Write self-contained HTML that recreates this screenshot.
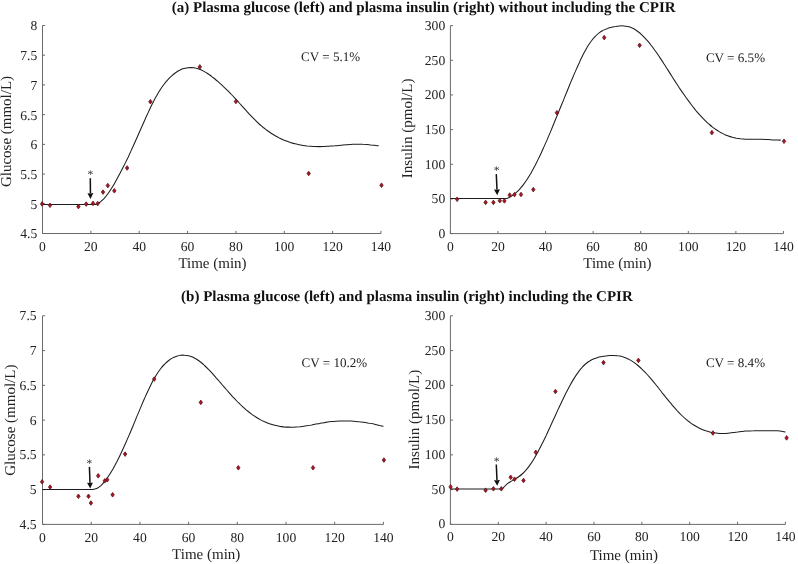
<!DOCTYPE html>
<html lang="en"><head><meta charset="utf-8"><title>Plasma glucose and plasma insulin</title>
<style>html,body{margin:0;padding:0;background:#fff}body{width:798px;height:564px;overflow:hidden}svg{display:block}text{text-rendering:geometricPrecision;font-family:"Liberation Serif","Times New Roman",serif;fill:#222}.t{font-size:13.6px}.c{font-size:13.1px}.s{font-size:11.5px}.l{font-size:15.0px}.h{font-size:15.0px;font-weight:bold;fill:#111}</style></head><body>
<svg width="798" height="564" viewBox="0 0 798 564">
<rect width="798" height="564" fill="#fff"/>
<text class="h" x="423.7" y="11.6" text-anchor="middle">(a) Plasma glucose (left) and plasma insulin (right) without including the CPIR</text>
<text class="h" x="406.9" y="300.8" text-anchor="middle">(b) Plasma glucose (left) and plasma insulin (right) including the CPIR</text>
<g id="A1">
<path d="M42.50 25.50V233.50H380.95M42.50 233.50h2.6M42.50 203.79h2.6M42.50 174.07h2.6M42.50 144.36h2.6M42.50 114.64h2.6M42.50 84.93h2.6M42.50 55.21h2.6M42.50 25.50h2.6M42.50 233.50v-2.6M90.85 233.50v-2.6M139.20 233.50v-2.6M187.55 233.50v-2.6M235.90 233.50v-2.6M284.25 233.50v-2.6M332.60 233.50v-2.6M380.95 233.50v-2.6" fill="none" stroke="#6a6a6a" stroke-width="1"/>
<text class="t" x="37.3" y="238.4" text-anchor="end">4.5</text>
<text class="t" x="37.3" y="208.7" text-anchor="end">5</text>
<text class="t" x="37.3" y="179.0" text-anchor="end">5.5</text>
<text class="t" x="37.3" y="149.3" text-anchor="end">6</text>
<text class="t" x="37.3" y="119.5" text-anchor="end">6.5</text>
<text class="t" x="37.3" y="89.8" text-anchor="end">7</text>
<text class="t" x="37.3" y="60.1" text-anchor="end">7.5</text>
<text class="t" x="37.3" y="30.4" text-anchor="end">8</text>
<text class="t" x="42.5" y="251.0" text-anchor="middle">0</text>
<text class="t" x="90.8" y="251.0" text-anchor="middle">20</text>
<text class="t" x="139.2" y="251.0" text-anchor="middle">40</text>
<text class="t" x="187.6" y="251.0" text-anchor="middle">60</text>
<text class="t" x="235.9" y="251.0" text-anchor="middle">80</text>
<text class="t" x="284.2" y="251.0" text-anchor="middle">100</text>
<text class="t" x="332.6" y="251.0" text-anchor="middle">120</text>
<text class="t" x="380.9" y="251.0" text-anchor="middle">140</text>
<text class="l" x="212.5" y="268.4" text-anchor="middle">Time (min)</text>
<text class="l" transform="translate(11.0 131.5) rotate(-90)" text-anchor="middle">Glucose (mmol/L)</text>
<text class="c" x="301.0" y="61.0">CV = 5.1%</text>
<path d="M42.5 204.5L96.0 204.5C96.7 204.1 98.7 203.1 100.0 202.2C101.3 201.2 102.6 200.0 104.0 198.6C105.3 197.2 106.6 195.5 107.9 193.7C109.3 191.9 110.6 189.8 111.9 187.7C113.3 185.6 114.6 183.3 115.9 180.9C117.2 178.6 118.6 176.1 119.9 173.6C121.2 171.1 122.5 168.5 123.9 165.8C125.2 163.2 126.5 160.4 127.9 157.7C129.2 154.9 130.5 152.0 131.8 149.1C133.2 146.3 134.5 143.3 135.8 140.3C137.1 137.4 138.5 134.3 139.8 131.3C141.1 128.3 142.5 125.2 143.8 122.2C145.1 119.2 146.4 116.2 147.8 113.4C149.1 110.5 150.4 107.6 151.7 105.0C153.1 102.3 154.4 99.7 155.7 97.3C157.1 94.9 158.4 92.6 159.7 90.5C161.0 88.4 162.4 86.5 163.7 84.7C165.0 82.9 166.3 81.3 167.7 79.8C169.0 78.4 170.3 77.0 171.7 75.8C173.0 74.6 174.3 73.6 175.6 72.7C177.0 71.7 178.3 70.9 179.6 70.3C180.9 69.6 182.3 69.0 183.6 68.6C184.9 68.2 186.3 67.9 187.6 67.7C188.9 67.5 190.2 67.5 191.6 67.5C192.9 67.6 194.2 67.8 195.5 68.1C196.9 68.3 198.2 68.8 199.5 69.3C200.9 69.8 202.2 70.4 203.5 71.1C204.8 71.8 206.2 72.6 207.5 73.5C208.8 74.4 210.1 75.3 211.5 76.3C212.8 77.3 214.1 78.4 215.5 79.5C216.8 80.6 218.1 81.8 219.4 82.9C220.8 84.1 222.1 85.3 223.4 86.6C224.7 87.8 226.1 89.1 227.4 90.4C228.7 91.8 230.1 93.1 231.4 94.5C232.7 95.8 234.0 97.2 235.4 98.7C236.7 100.1 238.0 101.5 239.3 103.0C240.7 104.5 242.0 106.0 243.3 107.4C244.6 108.9 246.0 110.4 247.3 111.8C248.6 113.3 250.0 114.8 251.3 116.2C252.6 117.6 253.9 118.9 255.3 120.2C256.6 121.6 257.9 122.8 259.2 124.0C260.6 125.2 261.9 126.4 263.2 127.5C264.6 128.5 265.9 129.6 267.2 130.5C268.5 131.5 269.9 132.4 271.2 133.3C272.5 134.1 273.8 135.0 275.2 135.7C276.5 136.5 277.8 137.2 279.2 137.9C280.5 138.5 281.8 139.1 283.1 139.7C284.5 140.3 285.8 140.8 287.1 141.3C288.4 141.8 289.8 142.3 291.1 142.7C292.4 143.1 293.8 143.5 295.1 143.8C296.4 144.1 297.7 144.4 299.1 144.7C300.4 145.0 301.7 145.2 303.0 145.4C304.4 145.6 305.7 145.8 307.0 146.0C308.4 146.1 309.7 146.2 311.0 146.3C312.3 146.4 313.7 146.5 315.0 146.5C316.3 146.6 317.6 146.6 319.0 146.6C320.3 146.6 321.6 146.6 323.0 146.5C324.3 146.5 325.6 146.4 326.9 146.3C328.3 146.3 329.6 146.2 330.9 146.1C332.2 146.0 333.6 145.9 334.9 145.8C336.2 145.6 337.6 145.5 338.9 145.4C340.2 145.3 341.5 145.2 342.9 145.0C344.2 144.9 345.5 144.8 346.8 144.7C348.2 144.6 349.5 144.5 350.8 144.4C352.2 144.3 353.5 144.3 354.8 144.2C356.1 144.2 357.5 144.2 358.8 144.2C360.1 144.2 361.4 144.2 362.8 144.3C364.1 144.3 365.4 144.4 366.8 144.5C368.1 144.6 369.4 144.7 370.7 144.9C372.1 145.0 373.4 145.1 374.7 145.3C376.0 145.5 378.0 145.7 378.7 145.8" fill="none" stroke="#1c1c1c" stroke-width="1.05" stroke-linejoin="round"/>
<path d="M42.1 201.6l1.7 2.3 -1.7 2.3 -1.7 -2.3zM50.0 203.0l1.7 2.3 -1.7 2.3 -1.7 -2.3zM78.4 204.3l1.7 2.3 -1.7 2.3 -1.7 -2.3zM86.2 201.8l1.7 2.3 -1.7 2.3 -1.7 -2.3zM93.0 201.1l1.7 2.3 -1.7 2.3 -1.7 -2.3zM97.7 201.3l1.7 2.3 -1.7 2.3 -1.7 -2.3zM103.0 189.8l1.7 2.3 -1.7 2.3 -1.7 -2.3zM107.8 183.3l1.7 2.3 -1.7 2.3 -1.7 -2.3zM114.3 188.5l1.7 2.3 -1.7 2.3 -1.7 -2.3zM127.1 165.7l1.7 2.3 -1.7 2.3 -1.7 -2.3zM150.4 99.4l1.7 2.3 -1.7 2.3 -1.7 -2.3zM199.8 64.6l1.7 2.3 -1.7 2.3 -1.7 -2.3zM235.9 99.2l1.7 2.3 -1.7 2.3 -1.7 -2.3zM308.7 171.2l1.7 2.3 -1.7 2.3 -1.7 -2.3zM381.5 182.9l1.7 2.3 -1.7 2.3 -1.7 -2.3z" fill="#a5152a" stroke="#641414" stroke-width="0.8" stroke-linejoin="round"/>
<path d="M90.30 178.20L90.45 193.40" stroke="#111" stroke-width="1.5" fill="none"/>
<path d="M90.50 198.90L87.49 193.13L90.45 193.40L93.39 193.07z" fill="#111"/>
<text class="s" x="90.3" y="178.0" text-anchor="middle">*</text>
</g>
<g id="A2">
<path d="M450.40 25.60V233.60H783.46M450.40 233.60h2.6M450.40 198.93h2.6M450.40 164.27h2.6M450.40 129.60h2.6M450.40 94.93h2.6M450.40 60.27h2.6M450.40 25.60h2.6M450.40 233.60v-2.6M497.98 233.60v-2.6M545.56 233.60v-2.6M593.14 233.60v-2.6M640.72 233.60v-2.6M688.30 233.60v-2.6M735.88 233.60v-2.6M783.46 233.60v-2.6" fill="none" stroke="#6a6a6a" stroke-width="1"/>
<text class="t" x="445.2" y="238.0" text-anchor="end">0</text>
<text class="t" x="445.2" y="203.3" text-anchor="end">50</text>
<text class="t" x="445.2" y="168.7" text-anchor="end">100</text>
<text class="t" x="445.2" y="134.0" text-anchor="end">150</text>
<text class="t" x="445.2" y="99.3" text-anchor="end">200</text>
<text class="t" x="445.2" y="64.7" text-anchor="end">250</text>
<text class="t" x="445.2" y="30.0" text-anchor="end">300</text>
<text class="t" x="450.4" y="251.1" text-anchor="middle">0</text>
<text class="t" x="498.0" y="251.1" text-anchor="middle">20</text>
<text class="t" x="545.6" y="251.1" text-anchor="middle">40</text>
<text class="t" x="593.1" y="251.1" text-anchor="middle">60</text>
<text class="t" x="640.7" y="251.1" text-anchor="middle">80</text>
<text class="t" x="688.3" y="251.1" text-anchor="middle">100</text>
<text class="t" x="735.9" y="251.1" text-anchor="middle">120</text>
<text class="t" x="783.5" y="251.1" text-anchor="middle">140</text>
<text class="l" x="617.4" y="268.2" text-anchor="middle">Time (min)</text>
<text class="l" transform="translate(412.0 128.4) rotate(-90)" text-anchor="middle">Insulin (pmol/L)</text>
<text class="c" x="705.9" y="61.9">CV = 6.5%</text>
<path d="M450.4 198.5L506.9 198.5C507.6 198.2 509.6 197.3 510.9 196.5C512.3 195.7 513.6 194.7 515.0 193.6C516.3 192.5 517.6 191.2 519.0 189.8C520.3 188.4 521.7 186.8 523.0 185.1C524.3 183.4 525.7 181.5 527.0 179.5C528.4 177.4 529.7 175.2 531.1 172.9C532.4 170.6 533.7 168.1 535.1 165.5C536.4 162.9 537.8 160.2 539.1 157.4C540.5 154.6 541.8 151.7 543.1 148.7C544.5 145.7 545.8 142.7 547.2 139.6C548.5 136.5 549.8 133.3 551.2 130.1C552.5 126.9 553.9 123.6 555.2 120.3C556.6 117.1 557.9 113.8 559.2 110.5C560.6 107.2 561.9 103.9 563.3 100.6C564.6 97.3 566.0 93.9 567.3 90.7C568.6 87.4 570.0 84.1 571.3 80.9C572.7 77.7 574.0 74.5 575.4 71.4C576.7 68.3 578.0 65.3 579.4 62.4C580.7 59.5 582.1 56.7 583.4 54.1C584.7 51.5 586.1 49.1 587.4 46.8C588.8 44.6 590.1 42.6 591.5 40.8C592.8 39.0 594.1 37.5 595.5 36.1C596.8 34.7 598.2 33.6 599.5 32.6C600.9 31.6 602.2 30.9 603.5 30.1C604.9 29.4 606.2 28.9 607.6 28.4C608.9 27.9 610.2 27.6 611.6 27.2C612.9 26.9 614.3 26.6 615.6 26.4C617.0 26.1 618.3 26.0 619.6 25.9C621.0 25.8 622.3 25.8 623.7 25.9C625.0 26.0 626.4 26.2 627.7 26.5C629.0 26.8 630.4 27.2 631.7 27.8C633.1 28.4 634.4 29.2 635.7 30.0C637.1 30.9 638.4 31.9 639.8 33.0C641.1 34.2 642.5 35.4 643.8 36.8C645.1 38.2 646.5 39.7 647.8 41.2C649.2 42.8 650.5 44.5 651.9 46.3C653.2 48.0 654.5 49.9 655.9 51.7C657.2 53.6 658.6 55.6 659.9 57.6C661.2 59.6 662.6 61.7 663.9 63.8C665.3 65.9 666.6 68.0 668.0 70.1C669.3 72.2 670.6 74.3 672.0 76.5C673.3 78.6 674.7 80.7 676.0 82.7C677.4 84.8 678.7 86.9 680.0 88.9C681.4 90.9 682.7 92.8 684.1 94.8C685.4 96.7 686.7 98.6 688.1 100.4C689.4 102.2 690.8 104.0 692.1 105.7C693.5 107.5 694.8 109.1 696.1 110.8C697.5 112.4 698.8 113.9 700.2 115.4C701.5 116.9 702.9 118.3 704.2 119.6C705.5 121.0 706.9 122.2 708.2 123.4C709.6 124.6 710.9 125.8 712.2 126.8C713.6 127.9 714.9 128.9 716.3 129.8C717.6 130.7 719.0 131.5 720.3 132.3C721.6 133.0 723.0 133.7 724.3 134.4C725.7 135.0 727.0 135.5 728.4 136.0C729.7 136.5 731.0 136.9 732.4 137.3C733.7 137.6 735.1 137.9 736.4 138.2C737.8 138.4 739.1 138.6 740.4 138.8C741.8 138.9 743.1 139.0 744.5 139.1C745.8 139.1 747.1 139.1 748.5 139.2C749.8 139.2 751.2 139.2 752.5 139.2C753.9 139.2 755.2 139.1 756.5 139.2C757.9 139.2 759.2 139.2 760.6 139.2C761.9 139.3 763.3 139.3 764.6 139.4C765.9 139.5 767.3 139.5 768.6 139.6C770.0 139.7 771.3 139.8 772.6 139.9C774.0 139.9 775.3 140.0 776.7 140.0C778.0 140.1 780.0 140.1 780.7 140.1" fill="none" stroke="#1c1c1c" stroke-width="1.05" stroke-linejoin="round"/>
<path d="M457.1 197.0l1.7 2.3 -1.7 2.3 -1.7 -2.3zM485.6 200.1l1.7 2.3 -1.7 2.3 -1.7 -2.3zM493.4 200.1l1.7 2.3 -1.7 2.3 -1.7 -2.3zM499.8 198.4l1.7 2.3 -1.7 2.3 -1.7 -2.3zM504.4 198.6l1.7 2.3 -1.7 2.3 -1.7 -2.3zM509.7 192.8l1.7 2.3 -1.7 2.3 -1.7 -2.3zM514.5 192.3l1.7 2.3 -1.7 2.3 -1.7 -2.3zM521.0 192.2l1.7 2.3 -1.7 2.3 -1.7 -2.3zM533.3 187.3l1.7 2.3 -1.7 2.3 -1.7 -2.3zM556.9 110.4l1.7 2.3 -1.7 2.3 -1.7 -2.3zM604.2 35.3l1.7 2.3 -1.7 2.3 -1.7 -2.3zM639.6 43.0l1.7 2.3 -1.7 2.3 -1.7 -2.3zM711.9 130.3l1.7 2.3 -1.7 2.3 -1.7 -2.3zM784.0 139.0l1.7 2.3 -1.7 2.3 -1.7 -2.3z" fill="#a5152a" stroke="#641414" stroke-width="0.8" stroke-linejoin="round"/>
<path d="M496.30 174.10L496.97 189.70" stroke="#111" stroke-width="1.5" fill="none"/>
<path d="M497.20 195.20L494.01 189.53L496.97 189.70L499.90 189.28z" fill="#111"/>
<text class="s" x="496.5" y="173.8" text-anchor="middle">*</text>
</g>
<g id="B1">
<path d="M42.50 315.80V524.40H383.40M42.50 524.40h2.6M42.50 489.63h2.6M42.50 454.87h2.6M42.50 420.10h2.6M42.50 385.33h2.6M42.50 350.57h2.6M42.50 315.80h2.6M42.50 524.40v-2.6M91.20 524.40v-2.6M139.90 524.40v-2.6M188.60 524.40v-2.6M237.30 524.40v-2.6M286.00 524.40v-2.6M334.70 524.40v-2.6M383.40 524.40v-2.6" fill="none" stroke="#6a6a6a" stroke-width="1"/>
<text class="t" x="36.6" y="528.9" text-anchor="end">4.5</text>
<text class="t" x="36.6" y="494.1" text-anchor="end">5</text>
<text class="t" x="36.6" y="459.4" text-anchor="end">5.5</text>
<text class="t" x="36.6" y="424.6" text-anchor="end">6</text>
<text class="t" x="36.6" y="389.8" text-anchor="end">6.5</text>
<text class="t" x="36.6" y="355.1" text-anchor="end">7</text>
<text class="t" x="36.6" y="320.3" text-anchor="end">7.5</text>
<text class="t" x="42.5" y="541.7" text-anchor="middle">0</text>
<text class="t" x="91.2" y="541.7" text-anchor="middle">20</text>
<text class="t" x="139.9" y="541.7" text-anchor="middle">40</text>
<text class="t" x="188.6" y="541.7" text-anchor="middle">60</text>
<text class="t" x="237.3" y="541.7" text-anchor="middle">80</text>
<text class="t" x="286.0" y="541.7" text-anchor="middle">100</text>
<text class="t" x="334.7" y="541.7" text-anchor="middle">120</text>
<text class="t" x="383.4" y="541.7" text-anchor="middle">140</text>
<text class="l" x="206.2" y="559.2" text-anchor="middle">Time (min)</text>
<text class="l" transform="translate(15.2 420.2) rotate(-90)" text-anchor="middle">Glucose (mmol/L)</text>
<text class="c" x="301.5" y="366.5">CV = 10.2%</text>
<path d="M42.5 489.5L93.2 489.5C93.9 489.3 95.9 488.9 97.2 488.2C98.5 487.5 99.8 486.5 101.2 485.3C102.5 484.0 103.8 482.6 105.1 480.9C106.5 479.3 107.8 477.4 109.1 475.3C110.4 473.3 111.8 471.1 113.1 468.8C114.4 466.4 115.7 463.9 117.1 461.3C118.4 458.7 119.7 456.0 121.0 453.2C122.4 450.4 123.7 447.5 125.0 444.5C126.3 441.6 127.7 438.5 129.0 435.4C130.3 432.4 131.6 429.2 133.0 426.0C134.3 422.9 135.6 419.6 136.9 416.4C138.3 413.3 139.6 410.0 140.9 406.9C142.2 403.8 143.6 400.6 144.9 397.6C146.2 394.6 147.5 391.7 148.9 388.9C150.2 386.2 151.5 383.5 152.8 381.0C154.2 378.6 155.5 376.3 156.8 374.2C158.1 372.1 159.5 370.2 160.8 368.5C162.1 366.8 163.4 365.3 164.8 364.0C166.1 362.6 167.4 361.5 168.7 360.5C170.1 359.5 171.4 358.6 172.7 357.9C174.0 357.2 175.4 356.7 176.7 356.2C178.0 355.8 179.3 355.5 180.7 355.3C182.0 355.1 183.3 355.1 184.6 355.2C186.0 355.2 187.3 355.4 188.6 355.8C189.9 356.1 191.3 356.6 192.6 357.1C193.9 357.7 195.2 358.4 196.6 359.2C197.9 360.1 199.2 361.0 200.5 362.0C201.9 363.1 203.2 364.2 204.5 365.5C205.8 366.7 207.2 368.0 208.5 369.4C209.8 370.7 211.1 372.2 212.5 373.6C213.8 375.1 215.1 376.6 216.4 378.1C217.8 379.6 219.1 381.2 220.4 382.7C221.7 384.2 223.1 385.8 224.4 387.3C225.7 388.8 227.0 390.4 228.4 391.9C229.7 393.4 231.0 394.8 232.3 396.3C233.7 397.7 235.0 399.2 236.3 400.5C237.6 401.9 239.0 403.2 240.3 404.5C241.6 405.8 242.9 407.0 244.3 408.2C245.6 409.3 246.9 410.5 248.2 411.5C249.6 412.6 250.9 413.6 252.2 414.6C253.5 415.5 254.9 416.4 256.2 417.2C257.5 418.1 258.8 418.9 260.2 419.6C261.5 420.3 262.8 421.0 264.1 421.6C265.5 422.2 266.8 422.7 268.1 423.2C269.4 423.7 270.8 424.2 272.1 424.6C273.4 425.0 274.7 425.3 276.1 425.6C277.4 425.9 278.7 426.2 280.0 426.4C281.4 426.6 282.7 426.7 284.0 426.9C285.3 427.0 286.7 427.1 288.0 427.1C289.3 427.2 290.6 427.2 292.0 427.2C293.3 427.2 294.6 427.1 295.9 427.0C297.3 426.9 298.6 426.8 299.9 426.7C301.2 426.5 302.6 426.4 303.9 426.2C305.2 426.0 306.5 425.8 307.9 425.6C309.2 425.3 310.5 425.1 311.8 424.9C313.2 424.6 314.5 424.4 315.8 424.1C317.1 423.9 318.5 423.6 319.8 423.4C321.1 423.2 322.4 422.9 323.8 422.7C325.1 422.5 326.4 422.3 327.7 422.1C329.1 422.0 330.4 421.8 331.7 421.6C333.0 421.5 334.4 421.4 335.7 421.3C337.0 421.2 338.3 421.1 339.7 421.0C341.0 420.9 342.3 420.9 343.6 420.9C345.0 420.9 346.3 420.9 347.6 420.9C348.9 420.9 350.3 421.0 351.6 421.1C352.9 421.2 354.2 421.3 355.6 421.4C356.9 421.5 358.2 421.6 359.5 421.8C360.9 421.9 362.2 422.1 363.5 422.3C364.8 422.5 366.2 422.7 367.5 422.9C368.8 423.1 370.1 423.3 371.5 423.6C372.8 423.8 374.1 424.1 375.4 424.4C376.8 424.7 378.1 425.0 379.4 425.4C380.7 425.7 382.7 426.3 383.4 426.5" fill="none" stroke="#1c1c1c" stroke-width="1.05" stroke-linejoin="round"/>
<path d="M42.1 479.5l1.7 2.3 -1.7 2.3 -1.7 -2.3zM50.1 484.8l1.7 2.3 -1.7 2.3 -1.7 -2.3zM78.4 494.0l1.7 2.3 -1.7 2.3 -1.7 -2.3zM88.5 494.0l1.7 2.3 -1.7 2.3 -1.7 -2.3zM90.9 500.7l1.7 2.3 -1.7 2.3 -1.7 -2.3zM98.2 473.5l1.7 2.3 -1.7 2.3 -1.7 -2.3zM104.8 478.5l1.7 2.3 -1.7 2.3 -1.7 -2.3zM107.2 477.5l1.7 2.3 -1.7 2.3 -1.7 -2.3zM112.6 492.5l1.7 2.3 -1.7 2.3 -1.7 -2.3zM125.1 451.8l1.7 2.3 -1.7 2.3 -1.7 -2.3zM154.2 376.8l1.7 2.3 -1.7 2.3 -1.7 -2.3zM200.8 400.1l1.7 2.3 -1.7 2.3 -1.7 -2.3zM238.3 465.5l1.7 2.3 -1.7 2.3 -1.7 -2.3zM313.0 465.4l1.7 2.3 -1.7 2.3 -1.7 -2.3zM383.9 457.8l1.7 2.3 -1.7 2.3 -1.7 -2.3z" fill="#a5152a" stroke="#641414" stroke-width="0.8" stroke-linejoin="round"/>
<path d="M89.40 466.90L90.00 482.90" stroke="#111" stroke-width="1.5" fill="none"/>
<path d="M90.20 488.40L87.04 482.71L90.00 482.90L92.93 482.49z" fill="#111"/>
<text class="s" x="89.4" y="467.0" text-anchor="middle">*</text>
</g>
<g id="B2">
<path d="M450.40 315.80V524.40H785.42M450.40 524.40h2.6M450.40 489.63h2.6M450.40 454.87h2.6M450.40 420.10h2.6M450.40 385.33h2.6M450.40 350.57h2.6M450.40 315.80h2.6M450.40 524.40v-2.6M498.26 524.40v-2.6M546.12 524.40v-2.6M593.98 524.40v-2.6M641.84 524.40v-2.6M689.70 524.40v-2.6M737.56 524.40v-2.6M785.42 524.40v-2.6" fill="none" stroke="#6a6a6a" stroke-width="1"/>
<text class="t" x="445.2" y="528.4" text-anchor="end">0</text>
<text class="t" x="445.2" y="493.6" text-anchor="end">50</text>
<text class="t" x="445.2" y="458.9" text-anchor="end">100</text>
<text class="t" x="445.2" y="424.1" text-anchor="end">150</text>
<text class="t" x="445.2" y="389.3" text-anchor="end">200</text>
<text class="t" x="445.2" y="354.6" text-anchor="end">250</text>
<text class="t" x="445.2" y="319.8" text-anchor="end">300</text>
<text class="t" x="450.4" y="541.1" text-anchor="middle">0</text>
<text class="t" x="498.3" y="541.1" text-anchor="middle">20</text>
<text class="t" x="546.1" y="541.1" text-anchor="middle">40</text>
<text class="t" x="594.0" y="541.1" text-anchor="middle">60</text>
<text class="t" x="641.8" y="541.1" text-anchor="middle">80</text>
<text class="t" x="689.7" y="541.1" text-anchor="middle">100</text>
<text class="t" x="737.6" y="541.1" text-anchor="middle">120</text>
<text class="t" x="785.4" y="541.1" text-anchor="middle">140</text>
<text class="l" x="624.0" y="560.4" text-anchor="middle">Time (min)</text>
<text class="l" transform="translate(419.0 419.6) rotate(-90)" text-anchor="middle">Insulin (pmol/L)</text>
<text class="c" x="705.9" y="366.5">CV = 8.4%</text>
<path d="M450.4 489.0L502.3 489.0C503.0 488.3 505.0 485.9 506.3 484.7C507.6 483.5 508.9 482.6 510.3 481.7C511.6 480.9 512.9 480.2 514.3 479.4C515.6 478.6 516.9 477.9 518.3 477.0C519.6 476.1 520.9 475.2 522.2 474.0C523.6 472.8 524.9 471.4 526.2 469.9C527.6 468.3 528.9 466.5 530.2 464.6C531.6 462.7 532.9 460.6 534.2 458.4C535.5 456.2 536.9 453.8 538.2 451.4C539.5 448.9 540.9 446.3 542.2 443.6C543.5 441.0 544.8 438.2 546.2 435.4C547.5 432.6 548.8 429.7 550.2 426.8C551.5 423.9 552.8 421.0 554.2 418.1C555.5 415.2 556.8 412.2 558.1 409.4C559.5 406.5 560.8 403.6 562.1 400.9C563.5 398.1 564.8 395.4 566.1 392.8C567.4 390.2 568.8 387.6 570.1 385.2C571.4 382.8 572.8 380.5 574.1 378.4C575.4 376.2 576.8 374.2 578.1 372.4C579.4 370.5 580.7 368.9 582.1 367.4C583.4 365.9 584.7 364.6 586.1 363.5C587.4 362.4 588.7 361.5 590.1 360.7C591.4 359.9 592.7 359.3 594.0 358.7C595.4 358.2 596.7 357.8 598.0 357.4C599.4 357.0 600.7 356.8 602.0 356.5C603.3 356.3 604.7 356.1 606.0 355.9C607.3 355.7 608.7 355.6 610.0 355.5C611.3 355.4 612.7 355.4 614.0 355.4C615.3 355.5 616.6 355.6 618.0 355.8C619.3 355.9 620.6 356.2 622.0 356.6C623.3 356.9 624.6 357.4 626.0 357.9C627.3 358.5 628.6 359.2 629.9 359.9C631.3 360.7 632.6 361.5 633.9 362.4C635.3 363.4 636.6 364.4 637.9 365.5C639.2 366.6 640.6 367.8 641.9 369.1C643.2 370.3 644.6 371.7 645.9 373.1C647.2 374.5 648.6 376.0 649.9 377.6C651.2 379.1 652.5 380.7 653.9 382.3C655.2 383.9 656.5 385.6 657.9 387.2C659.2 388.9 660.5 390.6 661.8 392.3C663.2 394.0 664.5 395.7 665.8 397.3C667.2 399.0 668.5 400.6 669.8 402.2C671.2 403.8 672.5 405.4 673.8 406.9C675.1 408.5 676.5 410.0 677.8 411.4C679.1 412.8 680.5 414.2 681.8 415.5C683.1 416.8 684.5 418.0 685.8 419.1C687.1 420.3 688.4 421.3 689.8 422.3C691.1 423.3 692.4 424.2 693.8 425.0C695.1 425.9 696.4 426.6 697.7 427.3C699.1 428.0 700.4 428.7 701.7 429.2C703.1 429.8 704.4 430.3 705.7 430.8C707.1 431.2 708.4 431.6 709.7 431.9C711.0 432.3 712.4 432.6 713.7 432.8C715.0 433.0 716.4 433.2 717.7 433.3C719.0 433.4 720.4 433.5 721.7 433.5C723.0 433.6 724.3 433.5 725.7 433.5C727.0 433.4 728.3 433.3 729.7 433.1C731.0 433.0 732.3 432.8 733.6 432.6C735.0 432.5 736.3 432.2 737.6 432.1C739.0 431.9 740.3 431.7 741.6 431.5C743.0 431.4 744.3 431.2 745.6 431.1C746.9 431.0 748.3 430.9 749.6 430.9C750.9 430.8 752.3 430.8 753.6 430.8C754.9 430.7 756.2 430.7 757.6 430.7C758.9 430.7 760.2 430.8 761.6 430.8C762.9 430.8 764.2 430.8 765.6 430.8C766.9 430.7 768.2 430.7 769.5 430.7C770.9 430.7 772.2 430.7 773.5 430.7C774.9 430.7 776.2 430.7 777.5 430.8C778.9 430.9 780.2 431.0 781.5 431.2C782.8 431.4 784.8 431.9 785.5 432.0" fill="none" stroke="#1c1c1c" stroke-width="1.05" stroke-linejoin="round"/>
<path d="M450.6 484.6l1.7 2.3 -1.7 2.3 -1.7 -2.3zM457.1 486.8l1.7 2.3 -1.7 2.3 -1.7 -2.3zM485.6 487.9l1.7 2.3 -1.7 2.3 -1.7 -2.3zM493.4 486.5l1.7 2.3 -1.7 2.3 -1.7 -2.3zM501.3 486.5l1.7 2.3 -1.7 2.3 -1.7 -2.3zM510.7 475.0l1.7 2.3 -1.7 2.3 -1.7 -2.3zM514.5 476.9l1.7 2.3 -1.7 2.3 -1.7 -2.3zM523.5 478.2l1.7 2.3 -1.7 2.3 -1.7 -2.3zM535.8 450.0l1.7 2.3 -1.7 2.3 -1.7 -2.3zM555.4 389.2l1.7 2.3 -1.7 2.3 -1.7 -2.3zM603.5 360.3l1.7 2.3 -1.7 2.3 -1.7 -2.3zM638.4 358.1l1.7 2.3 -1.7 2.3 -1.7 -2.3zM712.9 430.7l1.7 2.3 -1.7 2.3 -1.7 -2.3zM786.6 435.6l1.7 2.3 -1.7 2.3 -1.7 -2.3z" fill="#a5152a" stroke="#641414" stroke-width="0.8" stroke-linejoin="round"/>
<path d="M496.30 464.50L496.97 480.30" stroke="#111" stroke-width="1.5" fill="none"/>
<path d="M497.20 485.80L494.01 480.13L496.97 480.30L499.90 479.88z" fill="#111"/>
<text class="s" x="496.5" y="464.8" text-anchor="middle">*</text>
</g>
</svg></body></html>
